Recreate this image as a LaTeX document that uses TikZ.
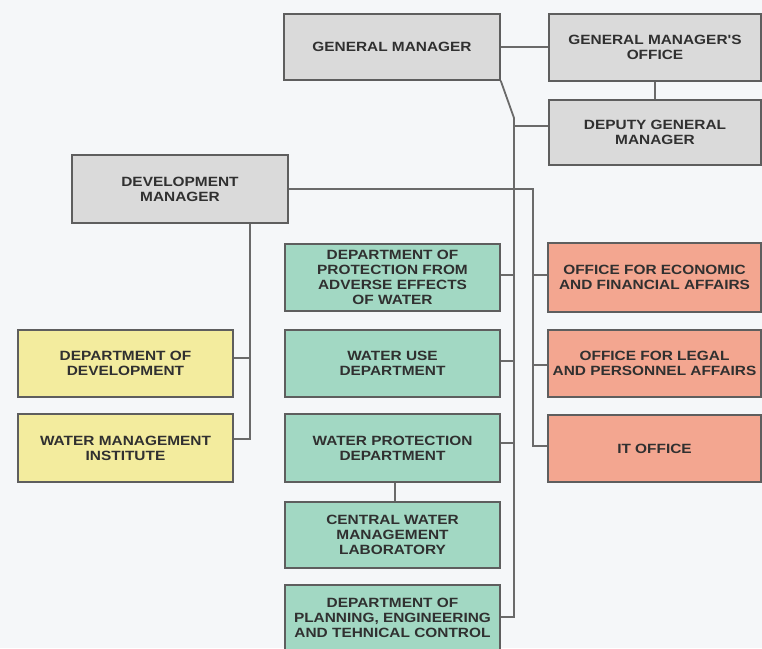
\documentclass[tikz,border=0pt]{standalone}
\usepackage{fontspec}
\newfontfamily\boxfont{Liberation Sans}[FakeStretch=1.15]
\definecolor{bg}{HTML}{F5F7F9}
\definecolor{greyfill}{HTML}{DADADA}
\definecolor{greenfill}{HTML}{A2D8C3}
\definecolor{orangefill}{HTML}{F3A690}
\definecolor{yellowfill}{HTML}{F3EC9E}
\definecolor{boxline}{HTML}{5E5E5E}
\definecolor{lineclr}{HTML}{6A6A6A}
\definecolor{txt}{HTML}{303030}
\begin{document}
\begin{tikzpicture}[x=1pt,y=-1pt,
  box/.style={draw=boxline,line width=1.5pt,inner sep=0pt,align=center,
    font=\boxfont\bfseries\fontsize{13.4}{15}\selectfont,text=txt},
  greybox/.style={box,fill=greyfill},
  greenbox/.style={box,fill=greenfill,minimum width=215pt},
  orangebox/.style={box,fill=orangefill,minimum width=213pt},
  yellowbox/.style={box,fill=yellowfill,minimum width=215pt},
  conn/.style={draw=lineclr,line width=1.8pt}]
\useasboundingbox (0,0) rectangle (762,648);
\clip (0,0) rectangle (762,648);
\fill[bg] (0,0) rectangle (762,648);

% top grey boxes
\node[greybox,minimum width=216pt,minimum height=66pt] (gm) at (392,47) {GENERAL MANAGER};
\node[greybox,minimum width=212pt,minimum height=67pt] (gmo) at (655,47.5) {GENERAL MANAGER'S\\OFFICE};
\node[greybox,minimum width=212pt,minimum height=65pt] (dgm) at (655,132.5) {DEPUTY GENERAL\\MANAGER};
\node[greybox,minimum width=216pt,minimum height=68pt] (dm) at (180,189) {DEVELOPMENT\\MANAGER};

% green boxes
\node[greenbox,minimum height=67pt] (g1) at (392.5,277.5) {DEPARTMENT OF\\PROTECTION FROM\\ADVERSE EFFECTS\\OF WATER};
\node[greenbox,minimum height=67pt] (g2) at (392.5,363.5) {WATER USE\\DEPARTMENT};
\node[greenbox,minimum height=68pt] (g3) at (392.5,448) {WATER PROTECTION\\DEPARTMENT};
\node[greenbox,minimum height=66pt] (g4) at (392.5,535) {CENTRAL WATER\\MANAGEMENT\\LABORATORY};
\node[greenbox,minimum height=66pt] (g5) at (392.5,618) {DEPARTMENT OF\\PLANNING, ENGINEERING\\AND TEHNICAL CONTROL};

% orange boxes
\node[orangebox,minimum height=69pt] (o1) at (654.5,277.5) {OFFICE FOR ECONOMIC\\AND FINANCIAL AFFAIRS};
\node[orangebox,minimum height=67pt] (o2) at (654.5,363.5) {OFFICE FOR LEGAL\\AND PERSONNEL AFFAIRS};
\node[orangebox,minimum height=67pt] (o3) at (654.5,448.5) {IT OFFICE};

% yellow boxes
\node[yellowbox,minimum height=67pt] (y1) at (125.5,363.5) {DEPARTMENT OF\\DEVELOPMENT};
\node[yellowbox,minimum height=68pt] (y2) at (125.5,448) {WATER MANAGEMENT\\INSTITUTE};

% connectors
\draw[conn] (gm.east) -- (gm.east -| gmo.west);
\draw[conn] (gmo.south) -- (dgm.north);
\coordinate (tk) at (514,118);
\coordinate (tkend) at (514,617);
\draw[conn] (gm.south east) -- (tk) -- (tkend) -- (tkend -| g5.east);
\coordinate (j1) at (514,126);
\draw[conn] (j1) -- (j1 -| dgm.west);
\coordinate (gb1) at (514,275);
\coordinate (gb2) at (514,361);
\coordinate (gb3) at (514,443);
\draw[conn] (gb1 -| g1.east) -- (gb1);
\draw[conn] (gb2 -| g2.east) -- (gb2);
\draw[conn] (gb3 -| g3.east) -- (gb3);
\coordinate (lab) at (395,0);
\draw[conn] (lab |- g3.south) -- (lab |- g4.north);

\coordinate (rt) at (533,189);
\coordinate (ob1) at (533,275);
\coordinate (ob2) at (533,365);
\coordinate (ob3) at (533,446);
\draw[conn] (dm.east) -- (rt) -- (ob3) -- (ob3 -| o3.west);
\draw[conn] (ob1 -| o1.west) -- (ob1);
\draw[conn] (ob2 -| o2.west) -- (ob2);

\coordinate (lt) at (250,223);
\coordinate (yb1) at (250,358);
\coordinate (yb2) at (250,439);
\draw[conn] (lt |- dm.south) -- (yb2) -- (yb2 -| y2.east);
\draw[conn] (yb1 -| y1.east) -- (yb1);
\end{tikzpicture}
\end{document}
